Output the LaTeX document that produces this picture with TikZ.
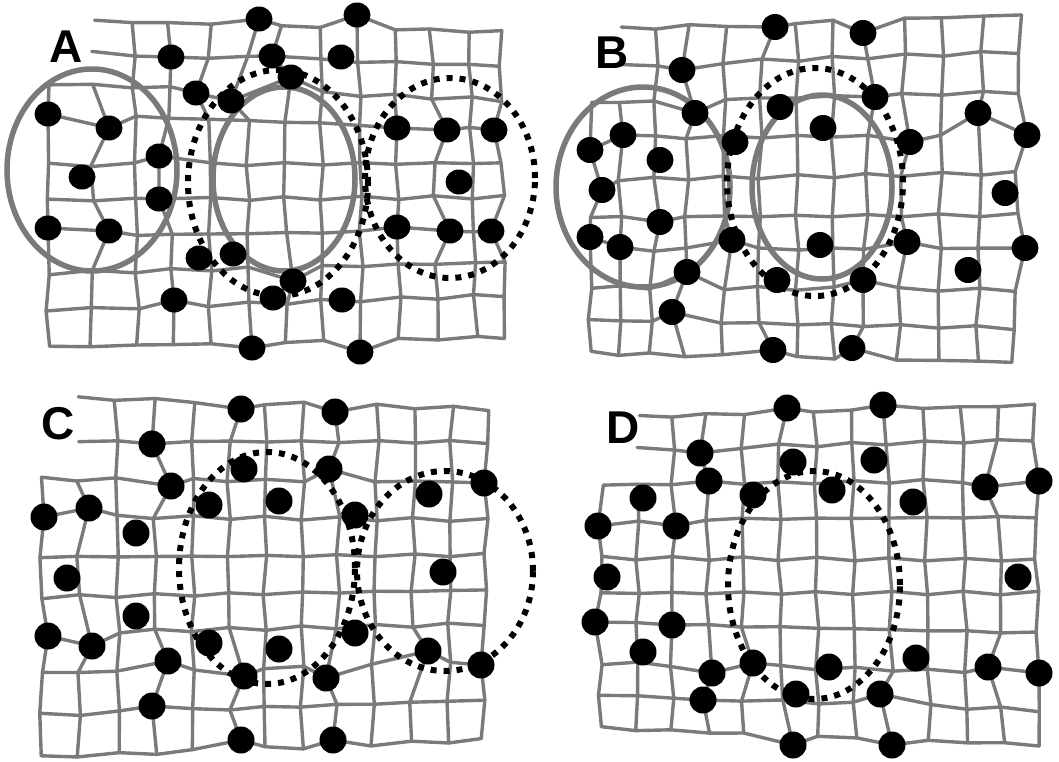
\documentclass[tikz,border=0pt]{standalone}
\usepackage{fontspec}
\newfontfamily\labfont{Liberation Sans}
\definecolor{gridgray}{RGB}{122,122,122}
\newcommand\buildgrid[6]{%
  \foreach \i in {0,...,12}{%
    \foreach \j in {0,...,9}{%
      \pgfmathsetmacro\xt{#2[\i]}%
      \pgfmathsetmacro\xb{#3[\i]}%
      \pgfmathsetmacro\yl{#4[\j]}%
      \pgfmathsetmacro\yr{#5[\j]}%
      \pgfmathsetmacro\gx{\xt+(\xb-\xt)*\j/9+1.8*sin(97*\i+211*\j+#6)}%
      \pgfmathsetmacro\gy{\yl+(\yr-\yl)*\i/12+1.8*sin(173*\i+59*\j+2*#6)}%
      \coordinate (#1-\i-\j) at (\gx,\gy);
    }}}
\newcommand\drawgrid[1]{%
  \foreach \j in {0,1}{\draw[gl] (#1-1-\j) \foreach \i in {2,...,12}{ -- (#1-\i-\j)};}
  \foreach \j in {2,...,9}{\draw[gl] (#1-0-\j) \foreach \i in {1,...,12}{ -- (#1-\i-\j)};}
  \foreach \i in {0,1}{\draw[gl] (#1-\i-2) \foreach \j in {3,...,9}{ -- (#1-\i-\j)};}
  \foreach \i in {2,...,12}{\draw[gl] (#1-\i-0) \foreach \j in {1,...,9}{ -- (#1-\i-\j)};}
}
% panel A grid data
\def\AXt{{47,93,133,169,210,248,283,321,359,395,431,469,500}}
\def\AXb{{48,91,138,172,210,248,286,322,362,400,438,476,505}}
\def\AYl{{20,52,84,114,165,200,236,273,310,347}}
\def\AYr{{32,66,100,130,163,197,230,262,295,337}}
% panel B
\def\BXt{{590,620,657,690,725,762,797,833,870,905,943,983,1020}}
\def\BXb{{590,620,650,683,722,757,797,833,863,898,938,977,1013}}
\def\BYl{{30,67,103,138,180,217,250,287,320,353}}
\def\BYr{{15,52,92,135,173,215,248,290,328,362}}
% panel C
\def\CXt{{40,78,116,155,193,229,266,303,340,378,416,452,488}}
\def\CXb{{41,79,119,155,193,228,264,302,336,372,410,448,483}}
\def\CYl{{397,441,479,516,557,597,633,673,715,757}}
\def\CYr{{409,442,482,520,555,590,624,663,700,740}}
% panel D
\def\DXt{{602,638,673,707,743,778,815,852,887,923,962,998,1033}}
\def\DXb{{600,637,672,708,743,782,818,855,893,930,967,1003,1040}}
\def\DYl{{418,450,485,520,558,593,623,663,695,728}}
\def\DYr{{405,440,480,517,560,593,633,673,710,745}}
\begin{document}
\begin{tikzpicture}[x=1pt,y=-1pt,
  gl/.style={draw=gridgray,line width=3.4pt,line join=round,line cap=round},
  solidell/.style={draw=gridgray,line width=5.5pt},
  dotell/.style={draw=black,line width=6pt,dash pattern=on 6pt off 7pt},
  dotfill/.style={fill=black},
  lab/.style={font=\labfont\bfseries\fontsize{46}{46}\selectfont,inner sep=0pt}]
\useasboundingbox[fill=white] (0,0) rectangle (1059,761);

% ---------------- Panel A ----------------
\buildgrid{A}{\AXt}{\AXb}{\AYl}{\AYr}{17}
\foreach \n/\x/\y in {5-0/259/19,8-0/357/15,3-1/171/57,6-1/272/56,6-2/291/77,4-2/196/93,5-2/231/101,
  0-3/48/114,1-3/109/128,3-4/159/156,3-5/159/199,0-6/48/228,1-6/109/231,9-3/397/128,10-3/447/130,
  12-3/494/130,9-6/397/227,10-6/450/231,12-6/491/231,6-7/293/281,3-8/174/300,5-9/252/348,8-9/360/352}
  \coordinate (A-\n) at (\x,\y);
\drawgrid{A}
\draw[solidell] (92,170) ellipse [x radius=85pt,y radius=101pt];
\draw[dotell] (278,183) ellipse [x radius=90pt,y radius=113pt];
\draw[solidell] (284,179) ellipse [x radius=71pt,y radius=92pt];
\draw[dotell] (450,178) ellipse [x radius=85pt,y radius=100pt];
\foreach \n in {5-0,8-0,3-1,6-1,6-2,4-2,5-2,0-3,1-3,3-4,3-5,0-6,1-6,9-3,10-3,12-3,9-6,10-6,12-6,6-7,3-8,5-9,8-9}
  \fill[dotfill] (A-\n) ellipse [x radius=13.5pt,y radius=12.5pt];
\foreach \x/\y in {341/57,82/177,459/182,199/258,233/254,273/298,342/300}
  \fill[dotfill] (\x,\y) ellipse [x radius=13.5pt,y radius=12.5pt];
\node[lab] (labA) at (66,47) {A};

% ---------------- Panel B ----------------
\buildgrid{B}{\BXt}{\BXb}{\BYl}{\BYr}{41}
\foreach \n/\x/\y in {5-0/775/27,8-0/863/33,3-1/682/70,3-2/695/113,8-2/875/97,1-3/623/135,0-3/590/150,
  9-3/910/142,11-3/978/113,12-3/1027/135,0-4/602/190,2-5/660/222,0-6/590/237,1-6/620/247,4-6/732/240,
  9-6/907/242,12-6/1025/248,3-7/687/272,8-7/863/280,3-8/672/312,5-9/773/350,8-9/852/348}
  \coordinate (B-\n) at (\x,\y);
\drawgrid{B}
\draw[solidell] (643,187) ellipse [x radius=87pt,y radius=100pt];
\draw[dotell] (815,182) ellipse [x radius=88pt,y radius=114pt];
\draw[solidell] (822,187) ellipse [x radius=70pt,y radius=92pt];
\foreach \n in {5-0,8-0,3-1,3-2,8-2,1-3,0-3,9-3,11-3,12-3,0-4,2-5,0-6,1-6,4-6,9-6,12-6,3-7,8-7,3-8,5-9,8-9}
  \fill[dotfill] (B-\n) ellipse [x radius=13.5pt,y radius=13pt];
\foreach \x/\y in {780/107,823/128,660/160,735/142,1005/193,820/245,968/270,777/280}
  \fill[dotfill] (\x,\y) ellipse [x radius=13.5pt,y radius=13pt];
\node[lab] (labB) at (612,53) {B};

% ---------------- Panel C ----------------
\buildgrid{C}{\CXt}{\CXb}{\CYl}{\CYr}{73}
\foreach \n/\x/\y in {5-0/241/409,8-0/335/412,3-1/152/444,3-2/171/486,8-2/329/469,1-3/89/508,0-3/44/517,
  12-2/484/483,0-6/48/636,1-6/92/646,3-7/168/661,10-7/428/651,12-7/481/665,5-7/244/676,8-7/326/678,
  3-8/152/706,5-9/241/740,8-9/333/740}
  \coordinate (C-\n) at (\x,\y);
\drawgrid{C}
\draw[dotell] (267,568) ellipse [x radius=88pt,y radius=116pt];
\draw[dotell] (445,571) ellipse [x radius=88pt,y radius=100pt];
\foreach \n in {5-0,8-0,3-1,3-2,8-2,1-3,0-3,12-2,0-6,1-6,3-7,10-7,12-7,5-7,8-7,3-8,5-9,8-9}
  \fill[dotfill] (C-\n) ellipse [x radius=13.5pt,y radius=13.5pt];
\foreach \x/\y in {244/469,209/505,279/501,355/515,136/533,429/494,67/578,443/572,136/616,209/643,279/649,355/633}
  \fill[dotfill] (\x,\y) ellipse [x radius=13.5pt,y radius=13.5pt];
\node[lab] (labC) at (58,424) {C};

% ---------------- Panel D ----------------
\buildgrid{D}{\DXt}{\DXb}{\DYl}{\DYr}{29}
\foreach \n/\x/\y in {5-0/787/408,8-0/883/405,3-1/700/453,3-2/709/481,11-2/985/487,12-2/1039/481,
  0-3/598/526,2-3/676/526,0-6/595/622,2-6/672/625,3-7/712/673,4-7/753/663,11-7/988/667,12-7/1039/673,
  3-8/703/700,8-8/880/694,5-9/793/745,8-9/892/745}
  \coordinate (D-\n) at (\x,\y);
\drawgrid{D}
\draw[dotell] (814,585) ellipse [x radius=86pt,y radius=114pt];
\foreach \n in {5-0,8-0,3-1,3-2,11-2,12-2,0-3,2-3,0-6,2-6,3-7,4-7,11-7,12-7,3-8,8-8,5-9,8-9}
  \fill[dotfill] (D-\n) ellipse [x radius=13.5pt,y radius=13.5pt];
\foreach \x/\y in {793/462,874/460,753/495,832/490,913/502,643/498,607/577,1018/577,643/652,829/667,916/658,796/694}
  \fill[dotfill] (\x,\y) ellipse [x radius=13.5pt,y radius=13.5pt];
\node[lab] (labD) at (623,428) {D};
\end{tikzpicture}
\end{document}
